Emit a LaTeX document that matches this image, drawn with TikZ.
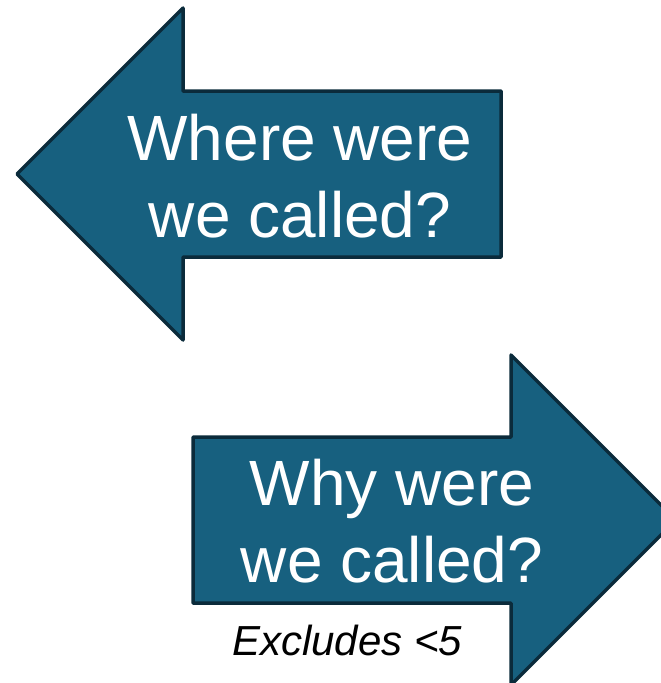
\documentclass[tikz,border=0pt]{standalone}
\usepackage{fontspec}
\setmainfont{Liberation Sans}
\definecolor{arrowfill}{HTML}{17607F}
\definecolor{arrowline}{HTML}{0B2B3B}
\tikzset{
  bigarrow/.style={fill=arrowfill, draw=arrowline, line width=3.5pt, line join=round},
  arrowtext/.style={text=white, align=center, inner sep=0pt, font=\fontsize{64}{77}\selectfont},
  notetext/.style={text=black, inner sep=0pt, font=\fontsize{42}{50}\selectfont\itshape}
}
\begin{document}
\begin{tikzpicture}[x=1pt,y=-1pt]
\useasboundingbox (0,0) rectangle (661,683);
\clip (0,0) rectangle (661,683);
% left arrow
\draw[bigarrow] (17,174) -- (183,8) -- (183,91) -- (501,91) -- (501,257) -- (183,257) -- (183,340) -- cycle;
% right arrow
\draw[bigarrow] (193,437) -- (511,437) -- (511,355) -- (676,520) -- (511,685) -- (511,603) -- (193,603) -- cycle;
\node[arrowtext, anchor=base] (where) at (300,237) {Where were\\we called?};
\node[arrowtext, anchor=base] (why) at (392,582) {Why were\\we called?};
\node[notetext, anchor=base] (note) at (347,655) {Excludes <5};
\end{tikzpicture}
\end{document}
